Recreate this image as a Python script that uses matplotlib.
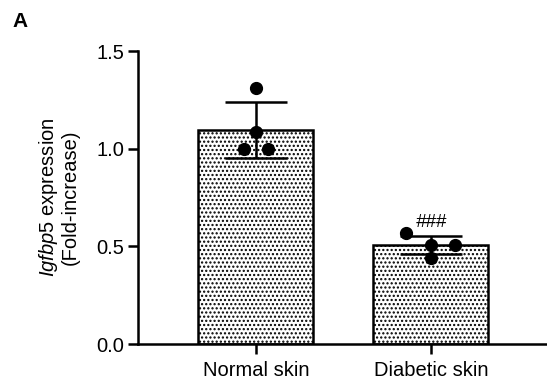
import matplotlib
matplotlib.use("Agg")
import matplotlib.pyplot as plt
import numpy as np

plt.rcParams['font.family'] = ['Liberation Sans', 'DejaVu Sans']
plt.rcParams['mathtext.fontset'] = 'custom'
plt.rcParams['mathtext.it'] = 'Liberation Sans:italic'
plt.rcParams['mathtext.rm'] = 'Liberation Sans'
plt.rcParams['hatch.linewidth'] = 1.05
plt.rcParams['hatch.color'] = 'black'

categories = ["Normal skin", "Diabetic skin"]
means = [1.095, 0.505]
sds = [0.145, 0.046]
points = [[1.309, 1.085, 0.997, 0.997], [0.568, 0.506, 0.506, 0.44]]
point_offsets = [[0.0, 0.0, -0.07, 0.07], [-0.14, 0.0, 0.14, 0.0]]
yticks = [0.0, 0.5, 1.0, 1.5]

fig = plt.figure(figsize=(5.47, 3.92), dpi=100)
ax = fig.add_axes([0.2523, 0.1224, 0.7477, 0.7474])

x = np.arange(len(categories))
ax.bar(x, means, width=0.657, facecolor='white', edgecolor='black',
       linewidth=1.8, hatch='....', zorder=2)
ax.errorbar(x, means, yerr=sds, fmt='none', ecolor='black', elinewidth=1.8,
            capsize=22, capthick=1.8, zorder=3)
for i, (pts, offs) in enumerate(zip(points, point_offsets)):
    ax.plot(x[i] + np.array(offs), pts, 'o', color='black', markersize=8.5,
            zorder=4, clip_on=False)

ax.text(x[1], means[1] + sds[1] + 0.028, "###", ha='center', va='bottom',
        fontsize=13.5, style='italic')

ax.set_xlim(-0.674, 1.663)
ax.set_ylim(0, 1.5)
ax.set_yticks(yticks)
ax.set_yticklabels([f"{t:.1f}" for t in yticks])
ax.set_xticks(x)
ax.set_xticklabels(categories)
ax.tick_params(axis='both', width=1.8, length=7, labelsize=14.5, color='black')
ax.tick_params(axis='x', pad=5)
ax.tick_params(axis='y', pad=3)
for s in ['top', 'right']:
    ax.spines[s].set_visible(False)
for s in ['left', 'bottom']:
    ax.spines[s].set_linewidth(1.8)

ax.set_ylabel(r"$\mathit{Igfbp5}$ expression" + "\n(Fold-increase)", fontsize=14.5,
              labelpad=12, linespacing=1.05)

fig.text(0.022, 0.97, "A", fontsize=15, fontweight='bold', ha='left', va='top')

fig.savefig("out.png", dpi=100)
